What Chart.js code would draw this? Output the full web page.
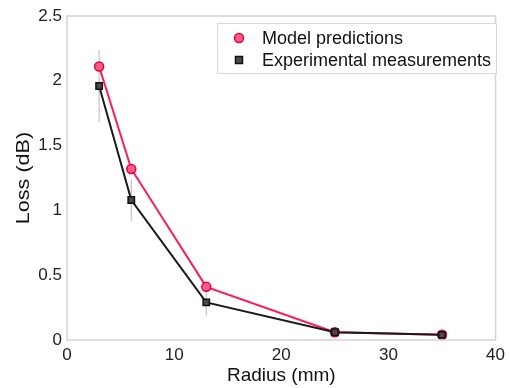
<!DOCTYPE html>
<html>
<head>
<meta charset="utf-8">
<script src="https://cdn.jsdelivr.net/npm/chart.js@4/dist/chart.umd.min.js"></script>
<style>
  html, body { margin: 0; padding: 0; background: #fff; }
  #wrap { width: 510px; height: 388px; }
</style>
</head>
<body>
<div id="wrap"><canvas id="lossChart" width="510" height="388"></canvas></div>
<script>
// radius (mm) vs bend loss (dB)
let radius = [3, 6, 13, 25, 35];
let modelLoss = [2.11, 1.32, 0.41, 0.06, 0.04];
let measuredLoss = [1.96, 1.08, 0.29, 0.06, 0.04];
let measuredErr = [0.28, 0.16, 0.10, 0.01, 0.01];
let xTicks = [0, 10, 20, 30, 40];
let yTicks = [0, 0.5, 1, 1.5, 2, 2.5];

const FONT = "'Liberation Sans', Arial, sans-serif";

// grey error bars under the measured points
const errorBars = {
  id: 'errorBars',
  beforeDatasetsDraw(chart) {
    let ctx = chart.ctx;
    let xs = chart.scales.x, ys = chart.scales.y;
    ctx.save();
    ctx.strokeStyle = '#c4c4c4';
    ctx.lineWidth = 1.2;
    radius.forEach((r, i) => {
      let px = xs.getPixelForValue(r);
      ctx.beginPath();
      ctx.moveTo(px, ys.getPixelForValue(measuredLoss[i] + measuredErr[i]));
      ctx.lineTo(px, ys.getPixelForValue(measuredLoss[i] - measuredErr[i]));
      ctx.stroke();
    });
    ctx.restore();
  }
};

// frame around the plot, the stretched y title and a boxed legend
const frameLegend = {
  id: 'frameLegend',
  afterDraw(chart) {
    let ctx = chart.ctx;
    let a = chart.chartArea;
    ctx.save();
    ctx.strokeStyle = '#d4d4d4';
    ctx.lineWidth = 1.5;
    ctx.strokeRect(a.left, a.top, a.right - a.left, a.bottom - a.top);

    // y axis title, drawn a bit elongated
    ctx.save();
    ctx.translate(24, (a.top + a.bottom) / 2);
    ctx.rotate(-Math.PI / 2);
    ctx.scale(1.2, 1);
    ctx.font = '18px ' + FONT;
    ctx.fillStyle = '#111';
    ctx.textAlign = 'center';
    ctx.textBaseline = 'middle';
    ctx.fillText('Loss (dB)', 0, 0);
    ctx.restore();

    let bx = 217, by = 23, bw = 279, bh = 50;
    ctx.fillStyle = '#fff';
    ctx.fillRect(bx, by, bw, bh);
    ctx.strokeStyle = '#d8d8d8';
    ctx.lineWidth = 1;
    ctx.strokeRect(bx + 0.5, by + 0.5, bw, bh);

    ctx.font = '18px ' + FONT;
    ctx.textBaseline = 'middle';
    chart.data.datasets.forEach((ds, i) => {
      let cy = by + 15 + i * 22;
      let cx = bx + 22;
      ctx.fillStyle = ds.pointBackgroundColor;
      ctx.strokeStyle = ds.pointBorderColor;
      ctx.lineWidth = 1.5;
      ctx.beginPath();
      if (ds.pointStyle === 'rect') {
        ctx.rect(cx - 3.5, cy - 3.5, 7, 7);
      } else {
        ctx.arc(cx, cy, 4.5, 0, Math.PI * 2);
      }
      ctx.fill();
      ctx.stroke();
      ctx.fillStyle = '#111';
      ctx.fillText(ds.label, bx + 45, cy + 1);
    });
    ctx.restore();
  }
};

let ctx = document.getElementById('lossChart').getContext('2d');
let chartInstance = new Chart(ctx, {
  type: 'line',
  data: {
    datasets: [{
      label: 'Model predictions',
      data: radius.map((r, i) => ({ x: r, y: modelLoss[i] })),
      order: 2,
      borderColor: '#ff1a55',
      borderWidth: 2,
      pointStyle: 'circle',
      pointRadius: 4.5,
      pointBackgroundColor: '#ff5c8a',
      pointBorderColor: '#e8003c',
      pointBorderWidth: 1.5,
      tension: 0
    },
    {
      label: 'Experimental measurements',
      data: radius.map((r, i) => ({ x: r, y: measuredLoss[i] })),
      order: 1,
      borderColor: '#1a1a1a',
      borderWidth: 2,
      pointStyle: 'rect',
      pointRadius: 4.5,
      pointBackgroundColor: '#4a4a4a',
      pointBorderColor: '#111',
      pointBorderWidth: 1.5,
      tension: 0
    }]
  },
  options: {
    responsive: false,
    animation: false,
    layout: { padding: { left: 0, right: 10, top: 16, bottom: 0 } },
    plugins: {
      legend: { display: false },
      tooltip: { enabled: false }
    },
    scales: {
      x: {
        type: 'linear',
        min: 0,
        max: 40,
        grid: { display: false, drawTicks: false },
        border: { display: false },
        afterBuildTicks: axis => { axis.ticks = xTicks.map(v => ({ value: v })); },
        ticks: { color: '#222', font: { family: FONT, size: 17 }, padding: 5, callback: v => String(v) },
        title: { display: true, text: 'Radius (mm)', color: '#111', font: { family: FONT, size: 19 }, padding: { top: 0, bottom: 1 } },
        afterFit: axis => { axis.height = 48; }
      },
      y: {
        type: 'linear',
        min: 0,
        max: 2.5,
        grid: { display: false, drawTicks: false },
        border: { display: false },
        afterBuildTicks: axis => { axis.ticks = yTicks.map(v => ({ value: v })); },
        ticks: { color: '#222', font: { family: FONT, size: 17 }, padding: 5, callback: v => String(v) },
        afterFit: axis => { axis.width = 67; }
      }
    }
  },
  plugins: [errorBars, frameLegend]
});
</script>
</body>
</html>
